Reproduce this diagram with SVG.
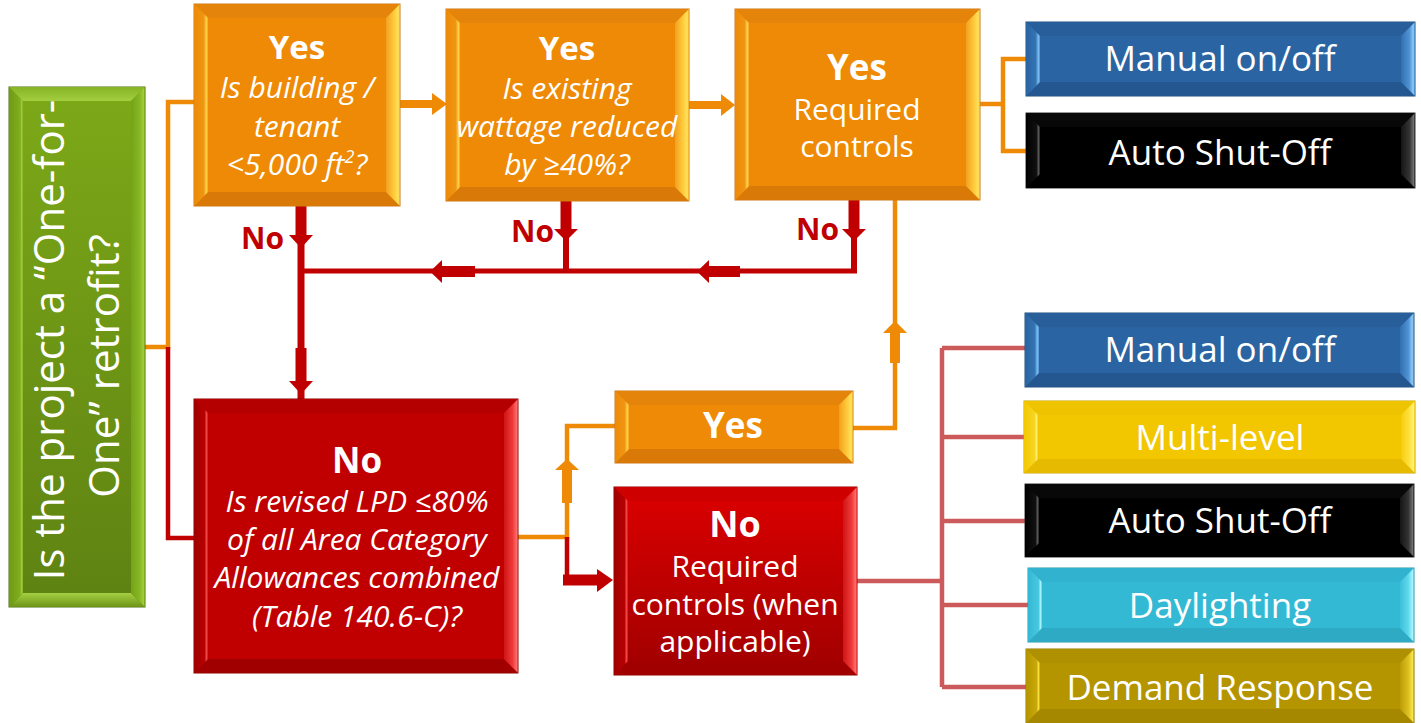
<svg xmlns="http://www.w3.org/2000/svg" width="1421" height="723" viewBox="0 0 1421 723">
<style>
.t{font-family:"Open Sans","Noto Sans","Liberation Sans",sans-serif;fill:#fff;text-anchor:middle}
.b{font-weight:700}
.i{font-style:italic}
.lbl{font-family:"Open Sans","Noto Sans","Liberation Sans",sans-serif;font-weight:700;font-size:30px;fill:#C00000}
.ol{fill:none;stroke:#EE8A05;stroke-width:4.5}
.rl{fill:none;stroke:#C00000;stroke-width:4.5}
.pl{fill:none;stroke:#CC5A5A;stroke-width:4.5}
.ot{fill:none;stroke:#EE8A05;stroke-width:10}
.rt{fill:none;stroke:#C00000;stroke-width:11}
.oh{fill:#EE8A05}
.rh{fill:#C00000}
.o-base{fill:#EE8A05;stroke:#C8781A;stroke-width:1}
.o-top{fill:#E5840A}.o-bot{fill:#D97A08}.o-l{fill:url(#oL)}.o-r{fill:url(#oR)}
.r-base{fill:#C00000;stroke:#8B0000;stroke-width:1}
.n-base{fill:url(#nV);stroke:#8B0000;stroke-width:1}
.r-top{fill:#B40000}.r-bot{fill:#A00000}.r-l{fill:url(#rL)}.r-r{fill:url(#rR)}
.n-top{fill:#CF0000}
.b-base{fill:#2B64A2;stroke:#1F4F82;stroke-width:1}
.b-top{fill:#285E99}.b-bot{fill:#245690}.b-l{fill:url(#bL)}.b-r{fill:url(#bR)}
.k-base{fill:#000;stroke:#333;stroke-width:1}
.k-top{fill:#080808}.k-bot{fill:#000}.k-l{fill:url(#kL)}.k-r{fill:url(#kR)}
.y-base{fill:#F2C700;stroke:#C9A400;stroke-width:1}
.y-top{fill:#EEC300}.y-bot{fill:#E6BA00}.y-l{fill:url(#yL)}.y-r{fill:url(#yR)}
.c-base{fill:#34B9D5;stroke:#2A98AF;stroke-width:1}
.c-top{fill:#31B3CF}.c-bot{fill:#2EAAC4}.c-l{fill:url(#cL)}.c-r{fill:url(#cR)}
.l-base{fill:#B49500;stroke:#8E7600;stroke-width:1}
.l-top{fill:#AE9000}.l-bot{fill:#A58800}.l-l{fill:url(#lL)}.l-r{fill:url(#lR)}
.g-base{fill:url(#gV);stroke:#4E6E10;stroke-width:1}
.g-top{fill:url(#gT)}.g-bot{fill:url(#gB)}.g-l{fill:url(#gL)}.g-r{fill:url(#gR)}
</style>
<defs>
<linearGradient id="oL" x1="0" y1="0" x2="1" y2="0"><stop offset="0" stop-color="#EC8A08"/><stop offset="0.7" stop-color="#F09612"/><stop offset="0.88" stop-color="#FFD24A"/><stop offset="1" stop-color="#F2A420"/></linearGradient>
<linearGradient id="oR" x1="0" y1="0" x2="1" y2="0"><stop offset="0" stop-color="#F1A021"/><stop offset="0.55" stop-color="#FFC93A"/><stop offset="0.88" stop-color="#FFE25C"/><stop offset="1" stop-color="#E9A52A"/></linearGradient>
<linearGradient id="rL" x1="0" y1="0" x2="1" y2="0"><stop offset="0" stop-color="#9E0000"/><stop offset="0.75" stop-color="#B80000"/><stop offset="0.9" stop-color="#F24B4B"/><stop offset="1" stop-color="#C21010"/></linearGradient>
<linearGradient id="rR" x1="0" y1="0" x2="1" y2="0"><stop offset="0" stop-color="#CF1515"/><stop offset="0.6" stop-color="#EE3838"/><stop offset="0.9" stop-color="#FF6B6B"/><stop offset="1" stop-color="#D42A2A"/></linearGradient>
<linearGradient id="nV" x1="0" y1="0" x2="0" y2="1"><stop offset="0" stop-color="#DC0000"/><stop offset="1" stop-color="#A00000"/></linearGradient>
<linearGradient id="bL" x1="0" y1="0" x2="1" y2="0"><stop offset="0" stop-color="#2A63A0"/><stop offset="0.7" stop-color="#3474B4"/><stop offset="0.88" stop-color="#7DBDF0"/><stop offset="1" stop-color="#4C8ED0"/></linearGradient>
<linearGradient id="bR" x1="0" y1="0" x2="1" y2="0"><stop offset="0" stop-color="#3170B0"/><stop offset="0.6" stop-color="#4F92D4"/><stop offset="0.88" stop-color="#8ECBF7"/><stop offset="1" stop-color="#3A78B8"/></linearGradient>
<linearGradient id="kL" x1="0" y1="0" x2="1" y2="0"><stop offset="0" stop-color="#000"/><stop offset="0.75" stop-color="#111"/><stop offset="0.9" stop-color="#5A5A5A"/><stop offset="1" stop-color="#1A1A1A"/></linearGradient>
<linearGradient id="kR" x1="0" y1="0" x2="1" y2="0"><stop offset="0" stop-color="#151515"/><stop offset="0.6" stop-color="#333"/><stop offset="0.9" stop-color="#707070"/><stop offset="1" stop-color="#222"/></linearGradient>
<linearGradient id="yL" x1="0" y1="0" x2="1" y2="0"><stop offset="0" stop-color="#F2C800"/><stop offset="0.75" stop-color="#F7D520"/><stop offset="0.9" stop-color="#FFEE70"/><stop offset="1" stop-color="#F5D000"/></linearGradient>
<linearGradient id="yR" x1="0" y1="0" x2="1" y2="0"><stop offset="0" stop-color="#F5CD10"/><stop offset="0.6" stop-color="#FFE040"/><stop offset="0.9" stop-color="#FFF27A"/><stop offset="1" stop-color="#E8C000"/></linearGradient>
<linearGradient id="cL" x1="0" y1="0" x2="1" y2="0"><stop offset="0" stop-color="#33B8D4"/><stop offset="0.75" stop-color="#48C8E0"/><stop offset="0.9" stop-color="#A6F5FF"/><stop offset="1" stop-color="#50CDE4"/></linearGradient>
<linearGradient id="cR" x1="0" y1="0" x2="1" y2="0"><stop offset="0" stop-color="#3BC0DA"/><stop offset="0.6" stop-color="#60D8EC"/><stop offset="0.9" stop-color="#A8F6FF"/><stop offset="1" stop-color="#39B6D0"/></linearGradient>
<linearGradient id="lL" x1="0" y1="0" x2="1" y2="0"><stop offset="0" stop-color="#B39400"/><stop offset="0.75" stop-color="#C9A808"/><stop offset="0.9" stop-color="#F6E040"/><stop offset="1" stop-color="#C2A000"/></linearGradient>
<linearGradient id="lR" x1="0" y1="0" x2="1" y2="0"><stop offset="0" stop-color="#BC9C05"/><stop offset="0.6" stop-color="#DCC020"/><stop offset="0.9" stop-color="#F8E648"/><stop offset="1" stop-color="#B59600"/></linearGradient>
<linearGradient id="gV" x1="0" y1="0" x2="0" y2="1"><stop offset="0" stop-color="#7DA918"/><stop offset="1" stop-color="#5E8212"/></linearGradient>
<linearGradient id="gT" x1="0" y1="0" x2="0" y2="1"><stop offset="0" stop-color="#86B424"/><stop offset="1" stop-color="#A2CE40"/></linearGradient>
<linearGradient id="gB" x1="0" y1="0" x2="0" y2="1"><stop offset="0" stop-color="#A5D042"/><stop offset="1" stop-color="#6C9416"/></linearGradient>
<linearGradient id="gL" x1="0" y1="0" x2="1" y2="0"><stop offset="0" stop-color="#6F9A15"/><stop offset="0.8" stop-color="#7FAE1E"/><stop offset="0.92" stop-color="#A8D040"/><stop offset="1" stop-color="#7AA819"/></linearGradient>
<linearGradient id="gR" x1="0" y1="0" x2="1" y2="0"><stop offset="0" stop-color="#75A318"/><stop offset="0.6" stop-color="#86B624"/><stop offset="0.9" stop-color="#A2CC3A"/><stop offset="1" stop-color="#6B9614"/></linearGradient>
</defs>
<rect width="1421" height="723" fill="#fff"/>

<g id="connectors">
<path class="ol" d="M145,347 H168 V102 H194"/>
<path class="rl" d="M168,347 V538 H194"/>
<path class="ol" d="M1026,59 H1003 V151 H1026 M980,104 H1003"/>
<path class="ol" d="M853,428 H895 V200"/>
<path class="ol" d="M518,537 H567 V426 H615"/>
<path class="rl" d="M567,537 V580 H600"/>
<path class="pl" d="M857,581 H942 M942,348 V687 M942,348 H1025 M942,437 H1024 M942,521 H1025 M942,605 H1028 M942,687 H1026"/>
<path fill="none" stroke="#C00000" stroke-width="5" d="M302,271 H857"/>
<text class="lbl" x="241" y="249">No</text>
<text class="lbl" x="511" y="242">No</text>
<text class="lbl" x="796" y="240">No</text>
<path fill="none" stroke="#EE8A05" stroke-width="8" d="M400,104 H434"/>
<polygon class="oh" points="432,93 447,104 432,115"/>
<path fill="none" stroke="#EE8A05" stroke-width="8" d="M689,105 H723"/>
<polygon class="oh" points="721,94 735,105 721,116"/>
<path class="rt" d="M301,206 V237"/>
<polygon class="rh" points="289,235 313,235 301,248"/>
<path fill="none" stroke="#C00000" stroke-width="7" d="M301,240 V352 M301,388 V399"/>
<path class="rt" d="M301,348 V384"/>
<polygon class="rh" points="289,381 313,381 301,394"/>
<path class="rt" d="M566,201 V231"/>
<polygon class="rh" points="554,229 578,229 566,241"/>
<path fill="none" stroke="#C00000" stroke-width="6" d="M566,236 V271"/>
<path class="rt" d="M854,200 V231"/>
<polygon class="rh" points="842,229 866,229 854,241"/>
<path fill="none" stroke="#C00000" stroke-width="6" d="M854,236 V271"/>
<path class="rt" d="M475,271.5 H441"/>
<polygon class="rh" points="442,260 430,271.5 442,283"/>
<path class="rt" d="M740,271.5 H708"/>
<polygon class="rh" points="709,260 697,271.5 709,283"/>
<path class="ot" d="M567,503 V469"/>
<polygon class="oh" points="555,470 579,470 567,459"/>
<path class="ot" d="M895,363 V332"/>
<polygon class="oh" points="883,333 907,333 895,321"/>
<path class="rt" d="M563,580 H598"/>
<polygon class="rh" points="597,569 597,592 613,580"/>
</g>

<g id="node-question">
<rect class="g-base" x="9" y="87" width="136" height="520"/>
<polygon class="g-top" points="9,87 145,87 131,101 23,101"/>
<polygon class="g-bot" points="9,607 145,607 131,593 23,593"/>
<polygon class="g-l" points="9,87 23,101 23,593 9,607"/>
<polygon class="g-r" points="145,87 131,101 131,593 145,607"/>
<text class="t" font-size="42" transform="translate(64,340) rotate(-90)">Is the project a “One-for-</text>
<text class="t" font-size="42" transform="translate(119,366) rotate(-90)">One” retrofit?</text>
</g>

<g id="node-size">
<rect class="o-base" x="194" y="4" width="206" height="202"/>
<polygon class="o-top" points="194,4 400,4 386,18 208,18"/>
<polygon class="o-bot" points="194,206 400,206 386,192 208,192"/>
<polygon class="o-l" points="194,4 208,18 208,192 194,206"/>
<polygon class="o-r" points="400,4 386,18 386,192 400,206"/>
<text class="t b" font-size="33" x="297" y="59">Yes</text>
<text class="t i" font-size="30" x="297" y="98">Is building /</text>
<text class="t i" font-size="30" x="297" y="137">tenant</text>
<text class="t i" font-size="30" x="297" y="175">&lt;5,000 ft<tspan font-size="18" dy="-12">2</tspan><tspan dy="12">?</tspan></text>
</g>

<g id="node-wattage">
<rect class="o-base" x="446" y="9" width="243" height="192"/>
<polygon class="o-top" points="446,9 689,9 675,23 460,23"/>
<polygon class="o-bot" points="446,201 689,201 675,187 460,187"/>
<polygon class="o-l" points="446,9 460,23 460,187 446,201"/>
<polygon class="o-r" points="689,9 675,23 675,187 689,201"/>
<text class="t b" font-size="33" x="567" y="60">Yes</text>
<text class="t i" font-size="30" x="567" y="99">Is existing</text>
<text class="t i" font-size="30" x="567" y="137">wattage reduced</text>
<text class="t i" font-size="30" x="567" y="175">by ≥40%?</text>
</g>

<g id="node-req-yes">
<rect class="o-base" x="735" y="9" width="245" height="191"/>
<polygon class="o-top" points="735,9 980,9 966,23 749,23"/>
<polygon class="o-bot" points="735,200 980,200 966,186 749,186"/>
<polygon class="o-l" points="735,9 749,23 749,186 735,200"/>
<polygon class="o-r" points="980,9 966,23 966,186 980,200"/>
<text class="t b" font-size="35" x="857" y="80">Yes</text>
<text class="t" font-size="30" x="857" y="120">Required</text>
<text class="t" font-size="30" x="857" y="157">controls</text>
</g>

<g id="node-manual-1">
<rect class="b-base" x="1026" y="22" width="389" height="74"/>
<polygon class="b-top" points="1026,22 1415,22 1401,36 1040,36"/>
<polygon class="b-bot" points="1026,96 1415,96 1401,82 1040,82"/>
<polygon class="b-l" points="1026,22 1040,36 1040,82 1026,96"/>
<polygon class="b-r" points="1415,22 1401,36 1401,82 1415,96"/>
<text class="t" font-size="35" x="1220" y="71">Manual on/off</text>
</g>

<g id="node-auto-1">
<rect class="k-base" x="1026" y="113" width="389" height="75"/>
<polygon class="k-top" points="1026,113 1415,113 1401,127 1040,127"/>
<polygon class="k-bot" points="1026,188 1415,188 1401,174 1040,174"/>
<polygon class="k-l" points="1026,113 1040,127 1040,174 1026,188"/>
<polygon class="k-r" points="1415,113 1401,127 1401,174 1415,188"/>
<text class="t" font-size="35" x="1220" y="165">Auto Shut-Off</text>
</g>

<g id="node-lpd">
<rect class="r-base" x="194" y="399" width="324" height="274"/>
<polygon class="r-top" points="194,399 518,399 504,413 208,413"/>
<polygon class="r-bot" points="194,673 518,673 504,659 208,659"/>
<polygon class="r-l" points="194,399 208,413 208,659 194,673"/>
<polygon class="r-r" points="518,399 504,413 504,659 518,673"/>
<text class="t b" font-size="35" x="357" y="473">No</text>
<text class="t i" font-size="30" x="357" y="512">Is revised LPD ≤80%</text>
<text class="t i" font-size="30" x="357" y="550">of all Area Category</text>
<text class="t i" font-size="30" x="357" y="588">Allowances combined</text>
<text class="t i" font-size="30" x="357" y="627">(Table 140.6-C)?</text>
</g>

<g id="node-yes-small">
<rect class="o-base" x="615" y="391" width="238" height="72"/>
<polygon class="o-top" points="615,391 853,391 839,405 629,405"/>
<polygon class="o-bot" points="615,463 853,463 839,449 629,449"/>
<polygon class="o-l" points="615,391 629,405 629,449 615,463"/>
<polygon class="o-r" points="853,391 839,405 839,449 853,463"/>
<text class="t b" font-size="35" x="733" y="438">Yes</text>
</g>

<g id="node-no-req">
<rect class="n-base" x="614" y="487" width="243" height="188"/>
<polygon class="n-top" points="614,487 857,487 843,501 628,501"/>
<polygon class="r-bot" points="614,675 857,675 843,661 628,661"/>
<polygon class="r-l" points="614,487 628,501 628,661 614,675"/>
<polygon class="r-r" points="857,487 843,501 843,661 857,675"/>
<text class="t b" font-size="36" x="735" y="537">No</text>
<text class="t" font-size="30" x="735" y="577">Required</text>
<text class="t" font-size="30" x="735" y="615">controls (when</text>
<text class="t" font-size="30" x="735" y="652">applicable)</text>
</g>

<g id="node-manual-2">
<rect class="b-base" x="1025" y="313" width="389" height="74"/>
<polygon class="b-top" points="1025,313 1414,313 1400,327 1039,327"/>
<polygon class="b-bot" points="1025,387 1414,387 1400,373 1039,373"/>
<polygon class="b-l" points="1025,313 1039,327 1039,373 1025,387"/>
<polygon class="b-r" points="1414,313 1400,327 1400,373 1414,387"/>
<text class="t" font-size="35" x="1220" y="362">Manual on/off</text>
</g>

<g id="node-multilevel">
<rect class="y-base" x="1024" y="401" width="391" height="72"/>
<polygon class="y-top" points="1024,401 1415,401 1401,415 1038,415"/>
<polygon class="y-bot" points="1024,473 1415,473 1401,459 1038,459"/>
<polygon class="y-l" points="1024,401 1038,415 1038,459 1024,473"/>
<polygon class="y-r" points="1415,401 1401,415 1401,459 1415,473"/>
<text class="t" font-size="35" x="1220" y="450">Multi-level</text>
</g>

<g id="node-auto-2">
<rect class="k-base" x="1025" y="484" width="389" height="73"/>
<polygon class="k-top" points="1025,484 1414,484 1400,498 1039,498"/>
<polygon class="k-bot" points="1025,557 1414,557 1400,543 1039,543"/>
<polygon class="k-l" points="1025,484 1039,498 1039,543 1025,557"/>
<polygon class="k-r" points="1414,484 1400,498 1400,543 1414,557"/>
<text class="t" font-size="35" x="1220" y="533">Auto Shut-Off</text>
</g>

<g id="node-daylighting">
<rect class="c-base" x="1028" y="568" width="386" height="74"/>
<polygon class="c-top" points="1028,568 1414,568 1400,582 1042,582"/>
<polygon class="c-bot" points="1028,642 1414,642 1400,628 1042,628"/>
<polygon class="c-l" points="1028,568 1042,582 1042,628 1028,642"/>
<polygon class="c-r" points="1414,568 1400,582 1400,628 1414,642"/>
<text class="t" font-size="35" x="1220" y="618">Daylighting</text>
</g>

<g id="node-demand">
<rect class="l-base" x="1026" y="649" width="388" height="74"/>
<polygon class="l-top" points="1026,649 1414,649 1400,663 1040,663"/>
<polygon class="l-bot" points="1026,723 1414,723 1400,709 1040,709"/>
<polygon class="l-l" points="1026,649 1040,663 1040,709 1026,723"/>
<polygon class="l-r" points="1414,649 1400,663 1400,709 1414,723"/>
<text class="t" font-size="35" x="1220" y="700">Demand Response</text>
</g>
</svg>
